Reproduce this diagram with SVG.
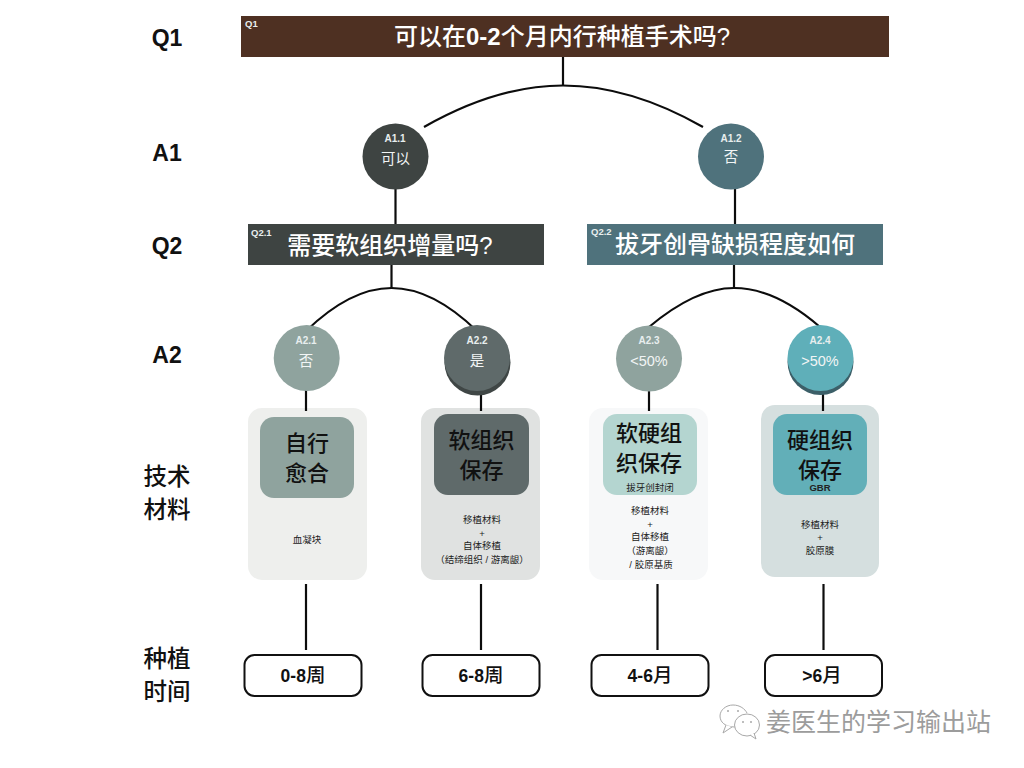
<svg xmlns="http://www.w3.org/2000/svg" width="1024" height="768" viewBox="0 0 1024 768">
<defs>
<style>
text{font-family:"Liberation Sans","Noto Sans CJK SC",sans-serif;text-anchor:middle}
.side{font-size:23px;font-weight:700;fill:#111}
.sidecn{font-size:23.500px;font-weight:500;fill:#111}
.tag{font-size:10px;font-weight:700;fill:#e8eeee}
.qtag{font-size:9.500px;font-weight:700;fill:#e8eeee;text-anchor:start}
.title{font-size:24px;font-weight:500;fill:#fff}
.title tspan{font-weight:700}
.ans{font-size:14.500px;fill:#f2f5f5}
.big{font-size:22px;font-weight:500;fill:#111}
.small{font-size:9.500px;fill:#222}
.time{font-size:19.500px;font-weight:500;fill:#111}
.time tspan{font-size:17.500px;font-weight:700}
.pill{fill:#fff;stroke:#111;stroke-width:2}
.con{fill:none;stroke:#0c0c0c;stroke-width:2.200}
</style>
</defs>
<rect width="1024" height="768" fill="#fff"/>

<g id="row-labels">
<text class="side" x="167" y="46">Q1</text>
<text class="side" x="167" y="161">A1</text>
<text class="side" x="167" y="254">Q2</text>
<text class="side" x="167" y="363">A2</text>
<text class="sidecn" x="167" y="485">技术</text>
<text class="sidecn" x="167" y="518">材料</text>
<text class="sidecn" x="167" y="667">种植</text>
<text class="sidecn" x="167" y="700">时间</text>
</g>

<g id="card-backgrounds">
<rect x="248" y="408" width="119" height="172" rx="14" fill="#eeefed"/>
<rect x="421" y="408" width="119" height="172" rx="14" fill="#e0e2e1"/>
<rect x="589" y="408" width="119" height="172" rx="14" fill="#f7f8f9"/>
<rect x="761" y="405" width="118" height="172" rx="14" fill="#d5dfdf"/>
</g>

<g id="connectors">
<path class="con" d="M563 57V86"/>
<path class="con" d="M424 127C475 98 520 85.500 563 85.500C606 85.500 652 98 703 127"/>
<path class="con" d="M395.500 188V224"/>
<path class="con" d="M735 188V224"/>
<path class="con" d="M391.500 265V288"/>
<path class="con" d="M734 261V288"/>
<path class="con" d="M306 331C335 303 365 288 391.500 288C418 288 448 303 477 331"/>
<path class="con" d="M649 327C680 301 708 288 734 288C762 288 790 301 820 327"/>
<path class="con" d="M306 390V411"/>
<path class="con" d="M481 394V411"/>
<path class="con" d="M649 390V411"/>
<path class="con" d="M823 394V411"/>
<path class="con" d="M306 584V650"/>
<path class="con" d="M481 584V650"/>
<path class="con" d="M657.500 584V650"/>
<path class="con" d="M823.500 584V650"/>
</g>

<g id="q1">
<rect x="241" y="16" width="648" height="41" fill="#4e3022"/>
<text class="qtag" x="245" y="27">Q1</text>
<text class="title" x="562" y="45">可以在<tspan>0-2</tspan>个月内行种植手术吗?</text>
</g>
<g id="a1-1">
<circle cx="395.500" cy="156.500" r="33" fill="#3e4442"/>
<text class="tag" x="395" y="142">A1.1</text>
<text class="ans" x="395.500" y="164">可以</text>
</g>
<g id="a1-2">
<circle cx="731" cy="156.500" r="33" fill="#4f727c"/>
<text class="tag" x="731" y="142">A1.2</text>
<text class="ans" x="731" y="162">否</text>
</g>
<g id="q2-1">
<rect x="248" y="224" width="296" height="41" fill="#3e4442"/>
<text class="qtag" x="251" y="236">Q2.1</text>
<text class="title" x="390" y="254">需要软组织增量吗?</text>
</g>
<g id="q2-2">
<rect x="587" y="224" width="296" height="41" fill="#4f727c"/>
<text class="qtag" x="591" y="235">Q2.2</text>
<text class="title" x="735" y="253">拔牙创骨缺损程度如何</text>
</g>
<g id="a2-1">
<circle cx="306.700" cy="358" r="33" fill="#8fa39e"/>
<text class="tag" x="306" y="344">A2.1</text>
<text class="ans" x="306" y="366">否</text>
</g>
<g id="a2-2">
<circle cx="477.500" cy="362.500" r="33" fill="#3f4645"/>
<circle cx="477" cy="358" r="33" fill="#5f6a6a"/>
<text class="tag" x="477" y="344">A2.2</text>
<text class="ans" x="477" y="366">是</text>
</g>
<g id="a2-3">
<circle cx="649" cy="358.500" r="33" fill="#8fa39e"/>
<text class="tag" x="649" y="344">A2.3</text>
<text class="ans" x="649" y="366">&lt;50%</text>
</g>
<g id="a2-4">
<circle cx="820.500" cy="362" r="33" fill="#3c5f68"/>
<circle cx="820.500" cy="358" r="33" fill="#5fafb9"/>
<text class="tag" x="820" y="344">A2.4</text>
<text class="ans" x="820" y="366">&gt;50%</text>
</g>

<g id="card-1">
<rect x="260" y="417" width="94" height="81" rx="14" fill="#8fa39e"/>
<text class="big" x="307" y="451">自行</text>
<text class="big" x="307" y="481">愈合</text>
<text class="small" x="307" y="543">血凝块</text>
</g>
<g id="card-2">
<rect x="434" y="414" width="95" height="81" rx="14" fill="#5f6a6a"/>
<text class="big" x="481.500" y="448">软组织</text>
<text class="big" x="481.500" y="478">保存</text>
<text class="small" x="482" y="523">移植材料</text>
<text class="small" x="482" y="537">+</text>
<text class="small" x="482" y="549">自体移植</text>
<text class="small" x="482" y="563">（结缔组织 / 游离龈）</text>
</g>
<g id="card-3">
<rect x="603" y="414" width="94" height="81" rx="14" fill="#b4d5d0"/>
<text class="big" x="649" y="441">软硬组</text>
<text class="big" x="649" y="471">织保存</text>
<text class="small" x="650" y="491">拔牙创封闭</text>
<text class="small" x="650" y="514">移植材料</text>
<text class="small" x="650" y="528">+</text>
<text class="small" x="650" y="540">自体移植</text>
<text class="small" x="650" y="554">（游离龈）</text>
<text class="small" x="651" y="568">/ 胶原基质</text>
</g>
<g id="card-4">
<rect x="773" y="414" width="94" height="81" rx="14" fill="#62afb8"/>
<text class="big" x="820" y="448">硬组织</text>
<text class="big" x="820" y="478">保存</text>
<text x="820" y="491" font-size="9.500" font-weight="700" fill="#222">GBR</text>
<text class="small" x="820" y="528">移植材料</text>
<text class="small" x="820" y="541">+</text>
<text class="small" x="820" y="554">胶原膜</text>
</g>

<g id="time-1">
<rect class="pill" x="244.500" y="655" width="117" height="41" rx="10"/>
<text class="time" x="303" y="682"><tspan>0-8</tspan>周</text>
</g>
<g id="time-2">
<rect class="pill" x="422.500" y="655" width="117" height="41" rx="10"/>
<text class="time" x="481" y="682"><tspan>6-8</tspan>周</text>
</g>
<g id="time-3">
<rect class="pill" x="591.500" y="655" width="117" height="41" rx="10"/>
<text class="time" x="650" y="682"><tspan>4-6</tspan>月</text>
</g>
<g id="time-4">
<rect class="pill" x="765" y="655" width="117" height="41" rx="10"/>
<text class="time" x="822" y="682"><tspan>&gt;6</tspan>月</text>
</g>

<g id="watermark">
<path d="M735 727C725 727 720 722 720 716C720 710 726 705 733 705C740 705 745 709 747 713" fill="#fff" stroke="#a8a8a8" stroke-width="1"/>
<path d="M726 725L723 733L732 727" fill="#fff" stroke="#a8a8a8" stroke-width="1"/>
<ellipse cx="747" cy="725" rx="12.500" ry="11" fill="#fff" stroke="#a8a8a8" stroke-width="1"/>
<path d="M750 735L756 739L754 733" fill="#fff" stroke="#a8a8a8" stroke-width="1"/>
<circle cx="743" cy="722" r="1" fill="#a8a8a8"/>
<circle cx="751" cy="722" r="1" fill="#a8a8a8"/>
<circle cx="728" cy="711" r="1" fill="#a8a8a8"/>
<circle cx="738" cy="711" r="1" fill="#a8a8a8"/>
<text x="878.500" y="731" font-size="25" fill="#9c9c9c">姜医生的学习输出站</text>
</g>
</svg>
